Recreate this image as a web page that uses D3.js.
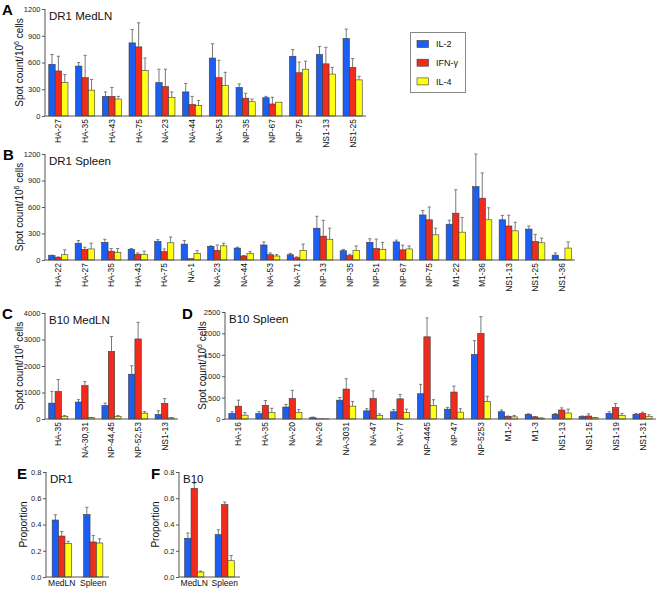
<!DOCTYPE html>
<html>
<head>
<meta charset="utf-8">
<script src="https://cdn.jsdelivr.net/npm/d3@7"></script>
<style>
  body { margin: 0; background: #fff; }
  svg { font-family: "Liberation Sans", Arial, sans-serif; }
</style>
</head>
<body>
<svg width="661" height="591"></svg>
<script>
const svg = d3.select('svg');

const seriesNames = ['IL-2', 'IFN-\u03b3', 'IL-4'];
const seriesColors = ['#1d5ef2', '#f02b1c', '#ffff14'];

// Panel A: DR1 MedLN
const catsA = ['HA-27', 'HA-35', 'HA-43', 'HA-75', 'NA-23', 'NA-44', 'NA-53', 'NP-35', 'NP-67', 'NP-75', 'NS1-13', 'NS1-25'];
const il2A = [580, 560, 220, 820, 375, 270, 650, 320, 205, 670, 690, 870];
const il2ErrA = [110, 40, 50, 150, 150, 95, 160, 40, 15, 75, 90, 105];
const ifnA = [505, 430, 220, 775, 330, 130, 430, 200, 135, 485, 585, 545];
const ifnErrA = [165, 250, 100, 270, 195, 90, 195, 55, 75, 120, 185, 100];
const il4A = [375, 290, 190, 510, 210, 120, 340, 160, 155, 525, 470, 405];
const il4ErrA = [90, 120, 30, 140, 60, 55, 150, 30, 0, 90, 75, 40];

// Panel B: DR1 Spleen
const catsB = ['HA-22', 'HA-27', 'HA-35', 'HA-43', 'HA-75', 'NA-1', 'NA-23', 'NA-44', 'NA-53', 'NA-71', 'NP-13', 'NP-35', 'NP-51', 'NP-67', 'NP-75', 'M1-22', 'M1-36', 'NS1-13', 'NS1-25', 'NS1-36'];
const il2B = [50, 190, 200, 120, 210, 180, 155, 135, 170, 60, 360, 105, 200, 205, 510, 405, 830, 455, 350, 55];
const il2ErrB = [5, 30, 35, 10, 20, 40, 5, 10, 35, 15, 135, 15, 40, 20, 50, 45, 370, 50, 35, 25];
const ifnB = [30, 120, 100, 65, 95, 15, 110, 45, 60, 25, 270, 50, 130, 115, 455, 530, 700, 385, 210, 5];
const ifnErrB = [5, 25, 30, 15, 30, 0, 60, 5, 20, 10, 180, 15, 106, 53, 145, 265, 285, 122, 80, 0];
const il4B = [60, 125, 85, 65, 195, 75, 160, 75, 45, 110, 235, 110, 120, 125, 285, 315, 455, 330, 195, 135];
const il4ErrB = [55, 65, 45, 35, 65, 30, 30, 20, 15, 70, 125, 49, 80, 34, 75, 167, 136, 98, 53, 70];

// Panel C: B10 MedLN
const catsC = ['HA-35', 'NA-30,31', 'NP-44,45', 'NP-52,53', 'NS1-13'];
const il2C = [600, 640, 510, 1690, 170];
const il2ErrC = [440, 90, 90, 320, 140];
const ifnC = [1040, 1260, 2550, 3020, 590];
const ifnErrC = [450, 150, 560, 630, 180];
const il4C = [100, 50, 100, 220, 40];
const il4ErrC = [30, 10, 30, 60, 10];

// Panel D: B10 Spleen
const catsD = ['HA-16', 'HA-35', 'NA-20', 'NA-26', 'NA-3031', 'NA-47', 'NA-77', 'NP-4445', 'NP-47', 'NP-5253', 'M1-2', 'M1-3', 'NS1-13', 'NS1-15', 'NS1-19', 'NS1-31'];
const il2D = [130, 125, 280, 30, 440, 190, 170, 590, 230, 1510, 170, 110, 110, 60, 130, 110];
const il2ErrD = [40, 45, 60, 15, 60, 50, 50, 220, 40, 320, 40, 10, 20, 10, 40, 20];
const ifnD = [300, 320, 480, 5, 700, 480, 470, 1920, 630, 2000, 60, 50, 210, 70, 270, 130];
const ifnErrD = [140, 110, 190, 0, 240, 180, 100, 440, 140, 390, 10, 5, 50, 50, 90, 30];
const il4D = [90, 150, 150, 5, 300, 80, 150, 320, 160, 410, 50, 20, 140, 30, 80, 60];
const il4ErrD = [60, 100, 70, 0, 110, 40, 80, 130, 80, 120, 30, 5, 90, 5, 50, 40];

// Panels E and F: proportions
const catsEF = ['MedLN', 'Spleen'];
const il2E = [0.434, 0.475];
const il2ErrE = [0.04, 0.056];
const ifnE = [0.312, 0.267];
const ifnErrE = [0.035, 0.05];
const il4E = [0.254, 0.259];
const il4ErrE = [0.018, 0.032];
const il2F = [0.295, 0.323];
const il2ErrF = [0.04, 0.037];
const ifnF = [0.676, 0.551];
const ifnErrF = [0.04, 0.02];
const il4F = [0.038, 0.124];
const il4ErrF = [0.007, 0.04];

const ticks1200 = [0, 300, 600, 900, 1200];
const ticks4000 = [0, 1000, 2000, 3000, 4000];
const ticks2500 = [0, 500, 1000, 1500, 2000, 2500];
const ticksProp = [0, 0.2, 0.4, 0.6, 0.8];

const BAR_W = 6.4;

function drawPanel(p) {
  const g = svg.append('g');
  const x = d3.scaleBand().domain(p.cats).range([p.x0, p.x1]);
  const y = d3.scaleLinear().domain([0, p.max]).range([p.y1, p.y0]);

  // bars + error bars
  p.series.forEach((s, si) => {
    const rows = p.cats.map((c, i) => ({ c, v: s.v[i], e: s.e[i] }));
    const off = (si - 1.5) * BAR_W;
    const bx = d => x(d.c) + x.bandwidth() / 2 + off;

    g.selectAll(null).data(rows).enter().append('line')
      .attr('x1', d => bx(d) + BAR_W / 2).attr('x2', d => bx(d) + BAR_W / 2)
      .attr('y1', d => y(d.v)).attr('y2', d => y(d.v + d.e))
      .attr('stroke', '#7a7a7a').attr('stroke-width', 1);
    g.selectAll(null).data(rows.filter(d => d.e > 0)).enter().append('line')
      .attr('x1', d => bx(d) + BAR_W / 2 - 1.6).attr('x2', d => bx(d) + BAR_W / 2 + 1.6)
      .attr('y1', d => y(d.v + d.e)).attr('y2', d => y(d.v + d.e))
      .attr('stroke', '#7a7a7a').attr('stroke-width', 1);

    g.selectAll(null).data(rows).enter().append('rect')
      .attr('x', bx)
      .attr('y', d => y(d.v))
      .attr('width', BAR_W)
      .attr('height', d => y(0) - y(d.v))
      .attr('fill', seriesColors[si])
      .attr('stroke', '#3a3a3a').attr('stroke-width', 0.6);
  });

  // y axis
  const yAxis = g.append('g')
    .attr('transform', `translate(${p.x0},0)`)
    .call(d3.axisLeft(y).tickValues(p.ticks).tickSize(3).tickPadding(1.5)
      .tickFormat(p.fmt || d3.format('d')));
  yAxis.select('.domain').attr('stroke', '#555').attr('d', `M0,${p.y1}V${p.y0}`);
  yAxis.selectAll('.tick line').attr('stroke', '#555');
  yAxis.selectAll('.tick text').attr('font-size', 7.5).attr('fill', '#222')
    .attr('font-family', '"Liberation Sans", Arial, sans-serif');

  // x axis line
  g.append('line').attr('x1', p.x0).attr('x2', p.x1).attr('y1', p.y1).attr('y2', p.y1)
    .attr('stroke', '#555').attr('stroke-width', 1);

  // category labels
  if (p.flatLabels) {
    g.selectAll(null).data(p.cats).enter().append('text')
      .attr('x', d => x(d) + x.bandwidth() / 2)
      .attr('y', p.y1 + 9)
      .attr('text-anchor', 'middle')
      .attr('font-size', 8.5).attr('fill', '#111')
      .text(d => d);
  } else {
    g.selectAll(null).data(p.cats).enter().append('text')
      .attr('transform', d => `translate(${x(d) + x.bandwidth() / 2},${p.y1 + 3}) rotate(-90)`)
      .attr('text-anchor', 'end')
      .attr('dy', '0.35em')
      .attr('font-size', 8.5).attr('fill', '#111')
      .text(d => d);
  }

  // panel title
  g.append('text').attr('x', p.x0 + 4).attr('y', p.y0 + 11)
    .attr('font-size', 11.5).attr('fill', '#111').text(p.title);

  // panel letter
  g.append('text').attr('x', p.lx).attr('y', p.ly)
    .attr('font-size', 15).attr('font-weight', 'bold').attr('fill', '#000').text(p.letter);

  // y axis title
  const yt = g.append('text')
    .attr('transform', `translate(${p.tx},${(p.y0 + p.y1) / 2}) rotate(-90)`)
    .attr('text-anchor', 'middle')
    .attr('font-size', 10).attr('fill', '#111');
  if (p.prop) {
    yt.text('Proportion');
  } else {
    yt.append('tspan').text('Spot count/10');
    yt.append('tspan').attr('font-size', 7).attr('dy', -4).text('6');
    yt.append('tspan').attr('dy', 4).text(' cells');
  }
}

function mk(v1, e1, v2, e2, v3, e3) {
  return [{ v: v1, e: e1 }, { v: v2, e: e2 }, { v: v3, e: e3 }];
}

drawPanel({ letter: 'A', title: 'DR1 MedLN', cats: catsA, series: mk(il2A, il2ErrA, ifnA, ifnErrA, il4A, il4ErrA),
  max: 1200, ticks: ticks1200, x0: 45, x1: 366, y0: 9, y1: 116, lx: 2, ly: 15, tx: 23 });
drawPanel({ letter: 'B', title: 'DR1 Spleen', cats: catsB, series: mk(il2B, il2ErrB, ifnB, ifnErrB, il4B, il4ErrB),
  max: 1200, ticks: ticks1200, x0: 45, x1: 575, y0: 154, y1: 260, lx: 3, ly: 160, tx: 23 });
drawPanel({ letter: 'C', title: 'B10 MedLN', cats: catsC, series: mk(il2C, il2ErrC, ifnC, ifnErrC, il4C, il4ErrC),
  max: 4000, ticks: ticks4000, x0: 45, x1: 178, y0: 313, y1: 419, lx: 2, ly: 319, tx: 23 });
drawPanel({ letter: 'D', title: 'B10 Spleen', cats: catsD, series: mk(il2D, il2ErrD, ifnD, ifnErrD, il4D, il4ErrD),
  max: 2500, ticks: ticks2500, x0: 225, x1: 656, y0: 312, y1: 419, lx: 182, ly: 319, tx: 206 });
drawPanel({ letter: 'E', title: 'DR1', cats: catsEF, series: mk(il2E, il2ErrE, ifnE, ifnErrE, il4E, il4ErrE),
  max: 0.8, ticks: ticksProp, fmt: d3.format('.1f'), prop: true, flatLabels: true,
  x0: 46, x1: 109, y0: 472, y1: 577, lx: 17, ly: 479, tx: 27 });
drawPanel({ letter: 'F', title: 'B10', cats: catsEF, series: mk(il2F, il2ErrF, ifnF, ifnErrF, il4F, il4ErrF),
  max: 0.8, ticks: ticksProp, fmt: d3.format('.1f'), prop: true, flatLabels: true,
  x0: 179, x1: 240, y0: 472, y1: 577, lx: 151, ly: 479, tx: 159 });

// legend
const lg = svg.append('g');
lg.append('rect').attr('x', 410.5).attr('y', 32.5).attr('width', 55).attr('height', 60)
  .attr('fill', '#fff').attr('stroke', '#888').attr('stroke-width', 1);
const legendRows = lg.selectAll(null).data(seriesNames).enter().append('g')
  .attr('transform', (d, i) => `translate(417,${44 + i * 18.7})`);
legendRows.append('rect').attr('x', 0).attr('y', -3.5).attr('width', 11.5).attr('height', 7)
  .attr('fill', (d, i) => seriesColors[i]).attr('stroke', '#3a3a3a').attr('stroke-width', 0.6);
legendRows.append('text').attr('x', 19).attr('dy', '0.35em')
  .attr('font-size', 9).attr('fill', '#111').text(d => d);
</script>
</body>
</html>
